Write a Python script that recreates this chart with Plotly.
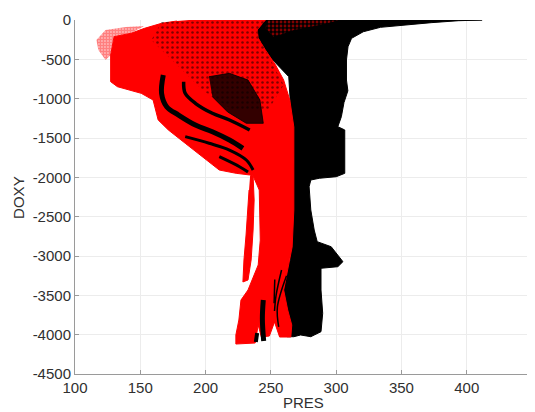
import plotly.graph_objects as go

# ---------------- axis ticks ----------------
x_ticks = [100, 150, 200, 250, 300, 350, 400, 450]
y_ticks = [0, -500, -1000, -1500, -2000, -2500, -3000, -3500, -4000, -4500]

# ---------------- black cloud (outer envelope of black profiles) ----------------
black_env_pres = [224.7, 411.8, 393.6, 372.8, 352.0, 333.9, 320.8, 311.8, 309.1, 307.9,
                  307.9, 309.0, 306.0, 304.0, 301.3, 306.6, 306.6, 300.1, 287.1, 280.6,
                  279.3, 280.6, 283.2, 285.5, 296.2, 305.2, 301.3, 288.4, 288.4, 289.7,
                  288.4, 285.8, 280.6, 272.8, 267.6, 262.4, 259.8, 252.0, 258.2, 265.0,
                  266.0, 267.6, 263.7, 244.2, 224.7]
black_env_doxy = [0, 0, -9, -34, -64, -93, -149, -233, -339, -508,
                  -763, -900, -1050, -1229, -1356, -1398, -1949, -1992, -2012, -2034,
                  -2119, -2415, -2670, -2818, -2882, -3072, -3136, -3156, -3432, -3728,
                  -3962, -3983, -4026, -4004, -4026, -4026, -3814, -3645, -3178, -3051,
                  -2628, -1780, -720, -382, -127]

# ---------------- red cloud (fan + deep column) ----------------
red_env_pres = [187.3, 245.8, 239.5, 240.3, 245.8, 253.6, 259.8, 264.5, 267.6, 267.6,
                266.3, 262.9, 259.8, 262.9, 266.0, 265.3, 256.7, 252.8, 248.9, 242.7,
                240.3, 238.0, 223.2, 223.2, 225.5, 227.1, 232.5, 240.3, 241.9, 241.1,
                236.4, 233.8, 223.4, 210.5, 197.4, 184.4, 171.5, 163.7, 159.8, 150.7,
                132.5, 127.3, 127.3, 129.9, 142.9, 153.2, 166.3, 178.0]
red_env_doxy = [0, 0, -127, -229, -381, -572, -763, -1017, -1360, -2415,
                -2886, -3178, -3432, -3686, -3877, -4030, -4030, -3839, -4017, -4030,
                -3877, -4106, -4119, -4004, -3814, -3560, -3432, -3114, -2797, -2161,
                -1983, -1970, -1949, -1907, -1742, -1567, -1398, -1271, -1017, -932,
                -848, -784, -445, -212, -169, -106, -42, -13]

# deep red left strand
red_strand_pres = [234.1, 236.4, 237.2, 236.4, 234.9, 232.5, 228.6, 229.4, 231.0, 232.5, 233.3]
red_strand_doxy = [-1983, -1983, -2288, -2670, -3051, -3305, -3330, -3051, -2733, -2415, -2161]

# sparse red fringe on the left of the fan
red_fringe_pres = [116.4, 123.4, 139.0, 153.0, 142.9, 129.6, 127.3, 123.4, 117.9]
red_fringe_doxy = [-254, -127, -89, -76, -165, -216, -445, -508, -381]

# red dots sprinkled over the black near the surface
red_top_pres = [248.1, 302.7, 291.0, 267.6, 252.0, 245.8]
red_top_doxy = [0, 0, -51, -127, -216, -102]

# black dots sprinkled over the red fan
black_sprinkle_pres = [166.3, 245.8, 245.8, 259.8, 248.1, 220.8, 197.4, 174.1, 158.5]
black_sprinkle_doxy = [-25, 0, -381, -826, -1144, -1144, -890, -508, -254]

# dense black speckled patch
black_patch_pres = [202.6, 218.2, 232.5, 241.6, 244.2, 231.2, 216.9, 205.2]
black_patch_doxy = [-721, -678, -763, -1017, -1313, -1313, -1169, -975]

# black banded profiles inside the red fan
band_a_pres = [167.6, 166.3, 170.2, 179.3, 192.2, 205.2, 218.3, 228.6]
band_a_doxy = [-699, -932, -1102, -1208, -1335, -1420, -1525, -1631]
band_b_pres = [183.2, 184.4, 192.2, 205.2, 218.3, 233.8]
band_b_doxy = [-784, -932, -1059, -1186, -1271, -1398]
band_c_pres = [184.4, 202.7, 218.3, 231.2, 236.4]
band_c_doxy = [-1483, -1567, -1653, -1780, -1907]
band_d_pres = [210.5, 226.0, 232.5]
band_d_doxy = [-1738, -1865, -1932]

# black deep profiles over the red column
deep1_pres = [244.2, 243.5, 244.5]
deep1_doxy = [-3560, -3800, -4080]
deep2_pres = [239.5, 238.5]
deep2_doxy = [-3979, -4093]
deep3_pres = [258.2, 254.0, 252.8]
deep3_doxy = [-3178, -3500, -3700]
deep4_pres = [262.0, 255.0, 256.0]
deep4_doxy = [-3250, -3650, -3900]
deep5_pres = [253.0, 252.5]
deep5_doxy = [-3300, -3600]

BLACK = "#000000"
RED = "#ff0000"
FONT = "Liberation Sans, Arial, sans-serif"

fig = go.Figure()


def poly(px, dy, color, pattern=None, fillcolor=None):
    if pattern is None:
        fc = fillcolor or color
        fig.add_trace(go.Scatter(x=px, y=dy, mode="lines", fill="toself",
                                 fillcolor=fc, line=dict(color=fc, width=1),
                                 hoverinfo="skip", showlegend=False))
    else:
        fig.add_trace(go.Scatter(x=px, y=dy, mode="none", fill="toself",
                                 fillcolor="rgba(0,0,0,0)",
                                 fillpattern=dict(shape=".", fgcolor=color,
                                                  bgcolor="rgba(0,0,0,0)",
                                                  size=pattern[0], solidity=pattern[1]),
                                 hoverinfo="skip", showlegend=False))


def line(px, dy, color, w):
    fig.add_trace(go.Scatter(x=px, y=dy, mode="lines",
                             line=dict(color=color, width=w, shape="spline"),
                             hoverinfo="skip", showlegend=False))


poly(black_env_pres, black_env_doxy, BLACK)
poly(red_env_pres, red_env_doxy, RED)
poly(red_strand_pres, red_strand_doxy, RED)
poly(red_fringe_pres, red_fringe_doxy, RED, pattern=(3, 0.8))
poly(red_top_pres, red_top_doxy, RED, pattern=(4, 0.4))
poly(black_sprinkle_pres, black_sprinkle_doxy, BLACK, pattern=(5, 0.2))
poly(black_patch_pres, black_patch_doxy, BLACK, fillcolor="rgba(0,0,0,0.8)")

line(band_a_pres, band_a_doxy, BLACK, 5)
line(band_b_pres, band_b_doxy, BLACK, 3.5)
line(band_c_pres, band_c_doxy, BLACK, 3)
line(band_d_pres, band_d_doxy, BLACK, 3)
line(deep1_pres, deep1_doxy, BLACK, 5)
line(deep2_pres, deep2_doxy, BLACK, 4)
line(deep3_pres, deep3_doxy, BLACK, 1.5)
line(deep4_pres, deep4_doxy, BLACK, 1.5)
line(deep5_pres, deep5_doxy, BLACK, 1.5)

axis_common = dict(
    showline=True, linecolor="#9a9a9a", linewidth=1,
    ticks="inside", ticklen=4, tickcolor="#9a9a9a", tickwidth=1,
    showgrid=True, gridcolor="#ececec", gridwidth=1,
    zeroline=False, mirror=False,
    tickfont=dict(family=FONT, size=15, color="#303030"),
)

fig.update_xaxes(range=[100, 450], tickvals=x_ticks, ticktext=[str(v) for v in x_ticks],
                 **axis_common)
fig.update_yaxes(range=[-4500, 0], tickvals=y_ticks, ticktext=[str(v) for v in y_ticks],
                 **axis_common)

# page body has an 8 px margin: figure is 527x404 so the plot area lands at
# x 75..524, y 20..374 of the 535x412 window
fig.add_annotation(text="PRES", xref="paper", yref="paper", x=0.5, y=-0.08,
                   xanchor="center", yanchor="middle", showarrow=False,
                   font=dict(family=FONT, size=15, color="#303030"))
fig.add_annotation(text="DOXY", xref="paper", yref="paper", x=-0.125, y=0.5,
                   xanchor="center", yanchor="middle", textangle=-90, showarrow=False,
                   font=dict(family=FONT, size=15, color="#303030"))

fig.update_layout(
    width=527, height=404,
    margin=dict(l=67, r=3, t=12, b=38),
    paper_bgcolor="white", plot_bgcolor="white",
    showlegend=False,
)

fig.write_html("out.html")
